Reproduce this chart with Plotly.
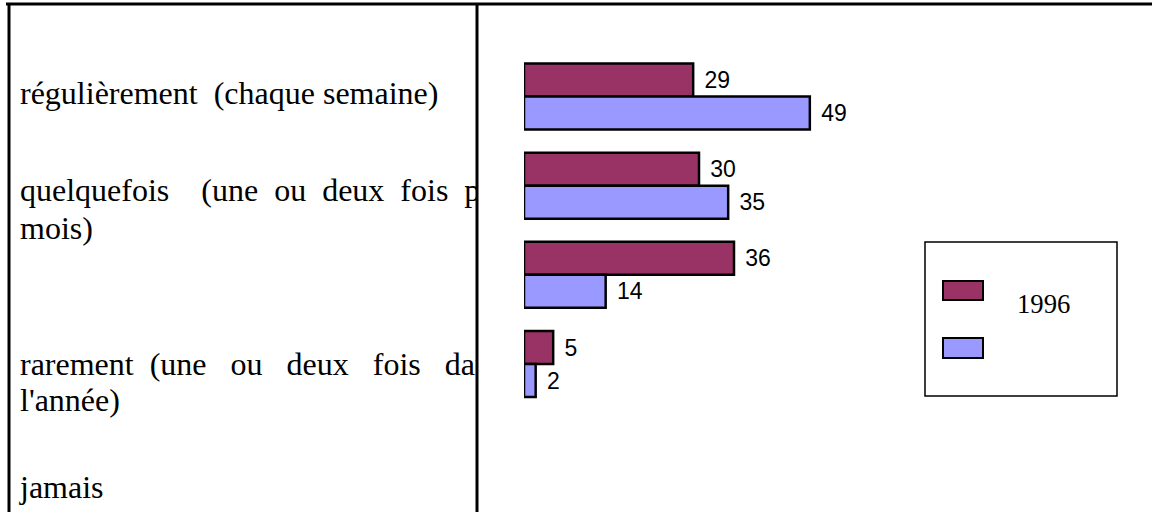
import plotly.graph_objects as go

# ---------------- data ----------------
categories = ["régulièrement", "quelquefois", "rarement", "jamais"]
series_names = ["1996", ""]
values_1996 = [29, 30, 36, 5]
values_other = [49, 35, 14, 2]
bar_colors = ["#993366", "#9999FF"]

NB = "\u00a0"
left_lines = [
    "régulièrement" + NB * 2 + "(chaque semaine)",
    "quelquefois" + NB * 4 + "(une" + NB * 2 + "ou" + NB * 2 + "deux" + NB * 2 + "fois" + NB * 2 + "par",
    "mois)",
    "rarement" + NB * 2 + "(une" + NB * 3 + "ou" + NB * 3 + "deux" + NB * 3 + "fois" + NB * 3 + "dans",
    "l'année)",
    "jamais",
]

# ---------------- layout helpers ----------------
W, H = 1152, 512


def px(x):
    return x / W


def py(y):
    return 1 - y / H


left_line_y = [96, 193, 231, 367, 403, 490]

fig = go.Figure()

series = [values_1996, values_other]
for name, vals, col in zip(series_names, series, bar_colors):
    fig.add_trace(go.Bar(
        y=categories, x=vals, name=name, orientation="h",
        marker=dict(color=col, line=dict(color="black", width=2.5)),
        texttemplate=NB + "\u200a%{x}", textposition="outside",
        textfont=dict(family="Liberation Sans, Arial", size=23, color="black"),
        constraintext="none", cliponaxis=False, showlegend=False,
        hoverinfo="skip",
    ))

fig.add_trace(go.Scatter(
    x=[20] * len(left_lines), y=left_line_y, text=left_lines,
    mode="text", textposition="middle right",
    textfont=dict(family="Liberation Serif, Times New Roman", size=32, color="black"),
    xaxis="x2", yaxis="y2", cliponaxis=True, showlegend=False, hoverinfo="skip",
))

shapes = [
    dict(type="line", xref="paper", yref="paper", x0=px(6), x1=px(1152), y0=py(4), y1=py(4),
         line=dict(color="black", width=3)),
    dict(type="line", xref="paper", yref="paper", x0=px(9), x1=px(9), y0=py(3), y1=py(512),
         line=dict(color="black", width=3)),
    dict(type="line", xref="paper", yref="paper", x0=px(477), x1=px(477), y0=py(3), y1=py(512),
         line=dict(color="black", width=3)),
    # legend box
    dict(type="rect", xref="paper", yref="paper", x0=px(925), x1=px(1117), y0=py(396), y1=py(242),
         line=dict(color="black", width=1.5), fillcolor="white"),
    dict(type="rect", xref="paper", yref="paper", x0=px(943), x1=px(983), y0=py(300), y1=py(281),
         line=dict(color="black", width=2), fillcolor=bar_colors[0]),
    dict(type="rect", xref="paper", yref="paper", x0=px(943), x1=px(983), y0=py(358), y1=py(338),
         line=dict(color="black", width=2), fillcolor=bar_colors[1]),
]

annotations = [
    dict(text=series_names[0], xref="paper", yref="paper", x=px(1015), y=py(304),
         xanchor="left", yanchor="middle", showarrow=False,
         font=dict(family="Liberation Serif, Times New Roman", size=26.7, color="black")),
]

fig.update_layout(
    width=W, height=H,
    margin=dict(l=0, r=0, t=0, b=0, pad=0),
    paper_bgcolor="white", plot_bgcolor="rgba(0,0,0,0)",
    barmode="group", bargap=0.26, bargroupgap=0,
    xaxis=dict(domain=[px(524), px(874)], range=[0, 60], visible=False, fixedrange=True),
    yaxis=dict(domain=[py(408.6), py(51.9)], range=[3.5, -0.5], visible=False,
               type="category", fixedrange=True),
    xaxis2=dict(domain=[0, px(476)], range=[0, 476], visible=False, anchor="y2"),
    yaxis2=dict(domain=[0, 1], range=[512, 0], visible=False, anchor="x2"),
    shapes=shapes, annotations=annotations,
)

fig.write_html("out.html", config={"displayModeBar": False},
               post_script="document.body.style.margin='0';")
